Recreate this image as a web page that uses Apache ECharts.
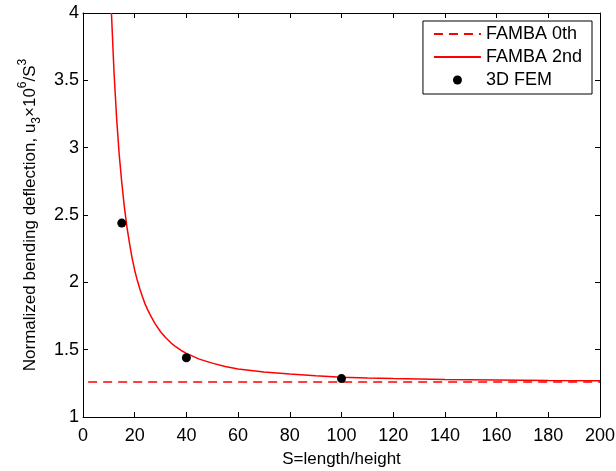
<!DOCTYPE html>
<html>
<head>
<meta charset="utf-8">
<script src="https://cdn.jsdelivr.net/npm/echarts@6/dist/echarts.min.js"></script>
<style>html,body{margin:0;padding:0;background:#fff;}#c{width:616px;height:471px;}</style>
</head>
<body>
<div id="c"></div>
<script>
// FAMBA 0th (constant)
const s0th = [2, 200];
const u0th = [1.26, 1.26];
// FAMBA 2nd (curve)
const s2nd = [11, 12, 13, 14, 15, 16, 17, 18, 19, 20, 21, 22, 23, 24, 25, 26, 27, 28, 30, 32, 34, 36, 38, 40, 45, 50, 55, 60, 70, 80, 90, 100, 110, 120, 140, 160, 180, 200];
const u2nd = [4.00, 3.56, 3.22, 2.95, 2.74, 2.56, 2.41, 2.29, 2.18, 2.09, 2.015, 1.95, 1.893, 1.84, 1.797, 1.758, 1.723, 1.69, 1.633, 1.588, 1.551, 1.52, 1.494, 1.472, 1.43, 1.40, 1.375, 1.356, 1.335, 1.319, 1.306, 1.296, 1.290, 1.285, 1.278, 1.274, 1.271, 1.269];
// 3D FEM points
const sFem = [15, 40, 100];
const uFem = [2.44, 1.44, 1.285];
// axes
const xTicks = {min: 0, max: 200, interval: 20};
const yTicks = {min: 1, max: 4, interval: 0.5};

const zip = (a, b) => a.map((v, i) => [v, b[i]]);
const FONT = 'Liberation Sans';

const chart = echarts.init(document.getElementById('c'), null, {renderer: 'canvas'});
const baseAxis = {
  axisLine: {show: true, onZero: false, lineStyle: {color: '#000', width: 1}},
  axisTick: {show: true, inside: true, length: 5, lineStyle: {color: '#000', width: 1}},
  splitLine: {show: false}
};
chart.setOption({
  animation: false,
  backgroundColor: '#fff',
  grid: {left: 83, right: 16, top: 13, bottom: 54, containLabel: false, outerBoundsMode: 'none'},
  legend: {
    orient: 'vertical',
    right: 24,
    top: 21,
    padding: [4, 10, 5, 10],
    itemWidth: 47,
    itemHeight: 9,
    itemGap: 5,
    borderColor: '#000',
    borderWidth: 1,
    borderRadius: 0,
    backgroundColor: '#fff',
    textStyle: {fontFamily: FONT, fontSize: 18, color: '#000'},
    data: [
      {name: 'FAMBA 0th', itemStyle: {opacity: 0}},
      {name: 'FAMBA 2nd', itemStyle: {opacity: 0}},
      {name: '3D FEM'}
    ]
  },
  xAxis: [
    Object.assign({}, baseAxis, {
      type: 'value', position: 'bottom', min: xTicks.min, max: xTicks.max, interval: xTicks.interval,
      name: 'S=length/height', nameLocation: 'middle', nameGap: 34,
      nameTextStyle: {fontFamily: FONT, fontSize: 17, color: '#000'},
      axisLabel: {fontFamily: FONT, fontSize: 18, color: '#000', margin: 10}
    }),
    Object.assign({}, baseAxis, {
      type: 'value', position: 'top', min: xTicks.min, max: xTicks.max, interval: xTicks.interval,
      axisLabel: {show: false}
    })
  ],
  yAxis: [
    Object.assign({}, baseAxis, {
      type: 'value', position: 'left', min: yTicks.min, max: yTicks.max, interval: yTicks.interval,
      name: 'Normalized bending deflection, u{sub|3}×10{sup|6}/S{sup|3}',
      nameLocation: 'middle', nameRotate: 90, nameGap: 43,
      nameTextStyle: {
        fontFamily: FONT, fontSize: 17, color: '#000', lineHeight: 26, verticalAlign: 'middle',
        rich: {
          sub: {fontFamily: FONT, fontSize: 12, color: '#000', lineHeight: 12, verticalAlign: 'bottom'},
          sup: {fontFamily: FONT, fontSize: 12, color: '#000', lineHeight: 12, verticalAlign: 'top'}
        }
      },
      axisLabel: {fontFamily: FONT, fontSize: 18, color: '#000', margin: 4}
    }),
    Object.assign({}, baseAxis, {
      type: 'value', position: 'right', min: yTicks.min, max: yTicks.max, interval: yTicks.interval,
      axisLabel: {show: false}
    })
  ],
  series: [
    {
      name: 'FAMBA 0th', type: 'line', data: zip(s0th, u0th), symbol: 'none',
      lineStyle: {color: '#ff0000', width: 1.5, type: [9, 6]}, itemStyle: {color: '#ff0000'}, z: 2
    },
    {
      name: 'FAMBA 2nd', type: 'line', data: zip(s2nd, u2nd), symbol: 'none', smooth: false,
      lineStyle: {color: '#ff0000', width: 1.5}, itemStyle: {color: '#ff0000'}, z: 3
    },
    {
      name: '3D FEM', type: 'scatter', data: zip(sFem, uFem), symbol: 'circle', symbolSize: 9,
      itemStyle: {color: '#000', opacity: 1}, z: 4
    }
  ]
});
</script>
</body>
</html>
